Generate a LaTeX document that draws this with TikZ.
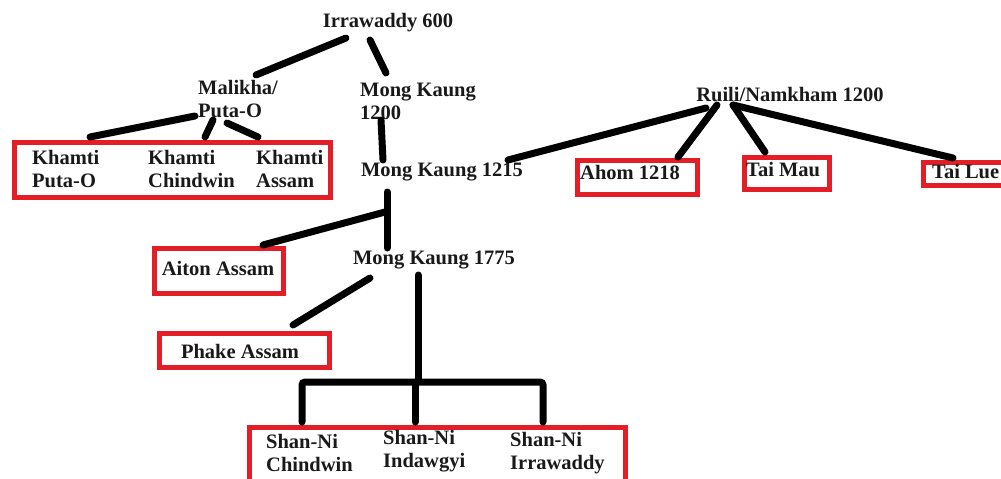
\documentclass[tikz,border=0pt]{standalone}
\usepackage{fontspec}
\setmainfont{Liberation Serif}
\usetikzlibrary{calc}
\definecolor{boxred}{RGB}{228,30,38}
\tikzset{
  lbl/.style={inner sep=0pt, font=\bfseries\fontsize{20.5}{23}\selectfont, text=black!90},
  lbll/.style={lbl, align=left, anchor=west},
  redbox/.style={draw=boxred, line width=5.5, inner sep=0pt, rectangle},
  conn/.style={draw=black, line width=7, line cap=round},
}
\begin{document}
\begin{tikzpicture}[x=1pt,y=-1pt]
\useasboundingbox (0,0) rectangle (1001,479);
% text nodes
\node[lbl] (irr) at (388,23) {Irrawaddy 600};
\node[lbll] (mal) at (198,99) {Malikha/\\Puta-O};
\node[lbll] (mk1200) at (360,101) {Mong Kaung\\1200};
\node[lbl] (mk1215) at (442,172) {Mong Kaung 1215};
\node[lbl] (ruili) at (790,95) {Ruili/Namkham 1200};
\node[lbl] (mk1775) at (434,260) {Mong Kaung 1775};
% red boxes
\node[redbox, minimum width=316, minimum height=55] (kbox) at (172.5,170) {};
\node[lbll] (kh1) at (32,169) {Khamti\\Puta-O};
\node[lbll] (kh2) at (148,169) {Khamti\\Chindwin};
\node[lbll] (kh3) at (256,169) {Khamti\\Assam};
\node[redbox, minimum width=120, minimum height=34] (ahombox) at (637.5,177.5) {};
\node[lbll] (ahom) at (580,172) {Ahom 1218};
\node[redbox, minimum width=85, minimum height=32] (maubox) at (787,173.5) {};
\node[lbll] (mau) at (746,170) {Tai Mau};
\node[redbox, minimum width=85, minimum height=23] (luebox) at (966,174) {};
\node[lbll] (lue) at (932,172) {Tai Lue};
\node[redbox, minimum width=129, minimum height=45] (aitonbox) at (219,271) {};
\node[lbl] (aiton) at (218,268) {Aiton Assam};
\node[redbox, minimum width=170, minimum height=34] (phakebox) at (244.5,350.5) {};
\node[lbl] (phake) at (240,351) {Phake Assam};
\node[redbox, minimum width=376, minimum height=55] (shanbox) at (437.5,455) {};
\node[lbll] (sh1) at (266,453) {Shan-Ni\\Chindwin};
\node[lbll] (sh2) at (383,451) {Shan-Ni\\Indawgyi};
\node[lbll] (sh3) at (510,453) {Shan-Ni\\Irrawaddy};
% connectors
\draw[conn] ($(irr)+(-42,15)$) -- ($(mal.west)+(58,-24)$);
\draw[conn] ($(irr)+(-18,17)$) -- ($(mk1200.west)+(26,-28)$);
\draw[conn] ($(mal.west)+(-3,17)$) -- ($(kh1.west)+(58,-32)$);
\draw[conn] ($(mal.west)+(15,21)$) -- ($(kh2.west)+(57,-32)$);
\draw[conn] ($(mal.west)+(29,24)$) -- ($(kh3.west)+(2,-32)$);
\draw[conn] ($(mk1200.west)+(21,19)$) -- ($(mk1215)+(-59,-12)$);
\draw[conn] ($(mk1215)+(66,-12)$) -- ($(ruili)+(-84,13)$);
\draw[conn] ($(ruili)+(-73,10)$) -- ($(ahombox)+(40.5,-20.5)$);
\draw[conn] ($(ruili)+(-57,10)$) -- ($(maubox)+(-22,-21.5)$);
\draw[conn] ($(ruili)+(-57,10)$) -- ($(luebox)+(-13,-16)$);
\draw[conn] ($(mk1215)+(-55,20)$) -- ($(mk1775)+(-47,-12)$);
\draw[conn] ($(aitonbox)+(44,-26)$) -- ($(mk1215)+(-57,40)$);
\draw[conn] ($(mk1775)+(-64,18)$) -- ($(phakebox)+(48.5,-25.5)$);
\draw[conn] ($(mk1775)+(-16,15)$) -- ($(mk1775)+(-16,122)$);
\draw[conn, rounded corners=3] ($(shanbox)+(-135.5,-33)$) |- ($(mk1775)+(-16,122)$) -| ($(shanbox)+(105.5,-33)$);
\draw[conn] ($(mk1775)+(-19,122)$) -- ($(shanbox)+(-22.5,-33)$);
\end{tikzpicture}
\end{document}
